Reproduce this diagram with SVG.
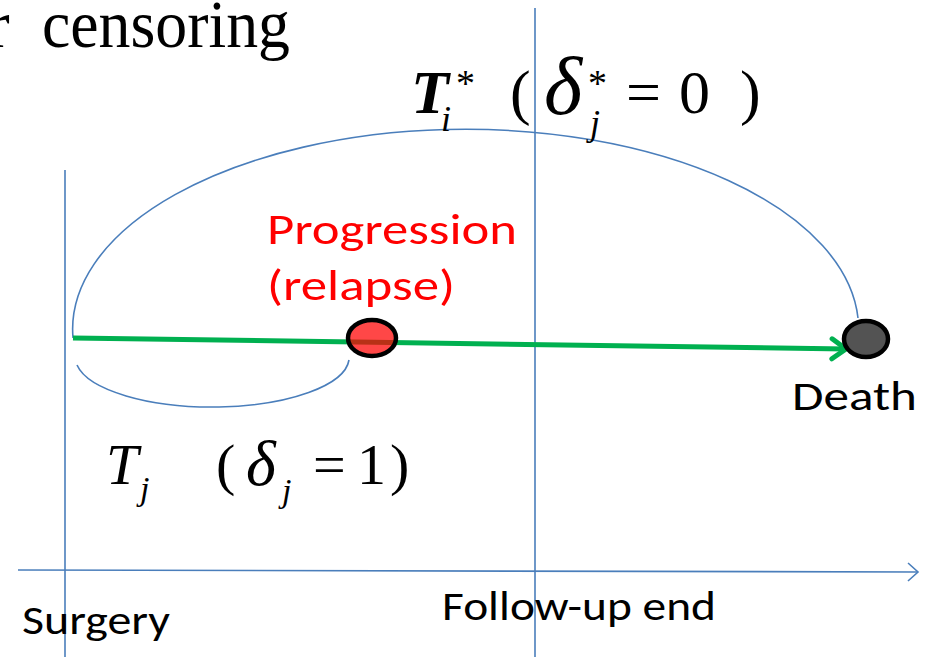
<svg xmlns="http://www.w3.org/2000/svg" width="927" height="657" viewBox="0 0 927 657">
<style>
.blue{stroke:#4a7ebb;stroke-width:1.6;fill:none}
.serif{font-family:"Liberation Serif","Times New Roman",serif;fill:#000}
.it{font-style:italic}
.sans{font-family:Carlito,"Liberation Sans",Arial,sans-serif}
</style>
<defs>
<marker id="ax" markerWidth="14" markerHeight="22" refX="12" refY="11" orient="auto" markerUnits="userSpaceOnUse">
<path d="M2,2 L12,11 L2,20" fill="none" stroke="#4a7ebb" stroke-width="1.6"/>
</marker>
<marker id="gr" markerWidth="22" markerHeight="26" refX="18" refY="13" orient="auto" markerUnits="userSpaceOnUse">
<path d="M4,3 L18,13 L4,23" fill="none" stroke="#00b050" stroke-width="5" stroke-linecap="round" stroke-linejoin="round"/>
</marker>
</defs>
<rect width="927" height="657" fill="#fff"/>
<g id="title">
<text class="serif" x="-13" y="47" font-size="68">r</text>
<text class="serif" x="42" y="47" font-size="68" textLength="248" lengthAdjust="spacingAndGlyphs">censoring</text>
</g>
<g id="connectors">
<line class="blue" x1="65" y1="170" x2="65" y2="657"/>
<line class="blue" x1="535" y1="8" x2="535" y2="657"/>
<line class="blue" x1="18" y1="570" x2="918" y2="572" marker-end="url(#ax)"/>
<path class="blue" d="M73,338 A393,200 0 0 1 858,318"/>
<path class="blue" d="M77,365 A137,50 0 0 0 349,360"/>
<line x1="73" y1="338" x2="846" y2="349" stroke="#00b050" stroke-width="5" marker-end="url(#gr)"/>
</g>
<g id="progression">
<ellipse cx="372" cy="338" rx="24" ry="18" fill="#ff0000" fill-opacity="0.72" stroke="#000" stroke-width="4.5"/>
<text class="sans" x="267" y="244" font-size="44" fill="#ff0000" textLength="250" lengthAdjust="spacingAndGlyphs">Progression</text>
<text class="sans" x="267" y="300" font-size="44" fill="#ff0000" textLength="188" lengthAdjust="spacingAndGlyphs">(relapse)</text>
</g>
<g id="death">
<ellipse cx="866" cy="339" rx="22" ry="18" fill="#404040" fill-opacity="0.9" stroke="#000" stroke-width="4.5"/>
<text class="sans" x="792" y="410" font-size="42" fill="#000" textLength="125" lengthAdjust="spacingAndGlyphs">Death</text>
</g>
<g id="label-Ti">
<text class="serif it" x="411" y="113" font-size="62" font-weight="bold">T</text>
<text class="serif it" x="441" y="131" font-size="36">i</text>
<text class="serif" x="456" y="96" font-size="38">*</text>
<text class="serif" x="510" y="113" font-size="62">(</text>
<text class="serif it" x="544" y="114" font-size="82">δ</text>
<text class="serif" x="588" y="96" font-size="38">*</text>
<text class="serif it" x="590" y="135" font-size="36">j</text>
<text class="serif" x="626" y="113" font-size="62">=</text>
<text class="serif" x="679" y="113" font-size="62">0</text>
<text class="serif" x="740" y="113" font-size="62">)</text>
</g>
<g id="label-Tj">
<text class="serif it" x="106" y="484" font-size="58">T</text>
<text class="serif it" x="140" y="500" font-size="34">j</text>
<text class="serif" x="216" y="484" font-size="58">(</text>
<text class="serif it" x="246" y="485" font-size="64">δ</text>
<text class="serif it" x="282" y="502" font-size="34">j</text>
<text class="serif" x="313" y="484" font-size="58">=</text>
<text class="serif" x="357" y="484" font-size="58">1</text>
<text class="serif" x="390" y="484" font-size="58">)</text>
</g>
<g id="surgery">
<text class="sans" x="22" y="634" font-size="40" fill="#000" textLength="148" lengthAdjust="spacingAndGlyphs">Surgery</text>
</g>
<g id="followup">
<text class="sans" x="442" y="620" font-size="40" fill="#000" textLength="274" lengthAdjust="spacingAndGlyphs">Follow-up end</text>
</g>
</svg>
